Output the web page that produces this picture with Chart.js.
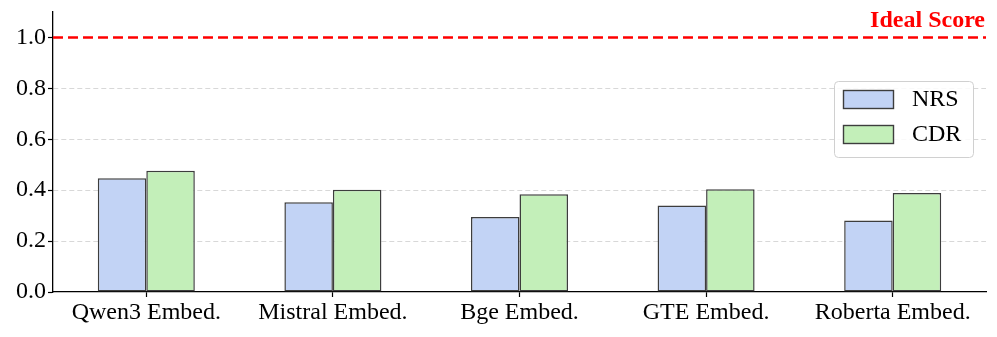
<!DOCTYPE html>
<html>
<head>
    <title>Embedding Scores</title>
    <script src="https://cdn.jsdelivr.net/npm/chart.js"></script>
    <style>
        body {
            margin: 0;
            background: #fff;
        }
    </style>
</head>
<body>
    <canvas id="chart" width="997" height="337"></canvas>
    <script>
        var models = ['Qwen3 Embed.', 'Mistral Embed.', 'Bge Embed.', 'GTE Embed.', 'Roberta Embed.'];
        var nrsScores = [0.447, 0.353, 0.295, 0.340, 0.281];
        var cdrScores = [0.476, 0.402, 0.384, 0.404, 0.389];
        var idealScore = 1.0;
        var yTicks = [0, 0.2, 0.4, 0.6, 0.8, 1.0];

        var serif = '"Liberation Serif", "Times New Roman", serif';
        Chart.defaults.font.family = serif;
        Chart.defaults.color = '#000';

        // red dashed ideal line + label, and the boxed legend
        var extras = {
            id: 'extras',
            afterDatasetsDraw: function(chart) {
                var ctx = chart.ctx, area = chart.chartArea;
                var y = chart.scales.y.getPixelForValue(idealScore);
                ctx.save();
                ctx.strokeStyle = '#ff0000';
                ctx.lineWidth = 2.6;
                ctx.setLineDash([10, 5]);
                ctx.beginPath();
                ctx.moveTo(area.left, y);
                ctx.lineTo(area.right, y);
                ctx.stroke();
                ctx.setLineDash([]);
                ctx.fillStyle = '#ff0000';
                ctx.font = 'bold 24px ' + serif;
                ctx.textAlign = 'right';
                ctx.textBaseline = 'alphabetic';
                ctx.fillText('Ideal Score', area.right - 1, y - 10);
                ctx.restore();
            },
            afterDraw: function(chart) {
                var ctx = chart.ctx;
                var x = 834, y = 81, w = 139, h = 76, r = 4;
                ctx.save();
                ctx.fillStyle = 'rgba(255,255,255,0.85)';
                ctx.strokeStyle = '#d0d0d0';
                ctx.lineWidth = 1;
                ctx.beginPath();
                ctx.roundRect(x + 0.5, y + 0.5, w, h, r);
                ctx.fill();
                ctx.stroke();
                ctx.font = '24px ' + serif;
                ctx.textBaseline = 'middle';
                ctx.textAlign = 'left';
                chart.data.datasets.forEach(function(ds, i) {
                    var sy = 90 + i * 35;
                    ctx.fillStyle = ds.backgroundColor;
                    ctx.fillRect(843, sy, 50, 18);
                    ctx.strokeStyle = ds.borderColor;
                    ctx.lineWidth = 1.4;
                    ctx.strokeRect(843.5, sy + 0.5, 50, 18);
                    ctx.fillStyle = '#000';
                    ctx.fillText(ds.label, 912, sy + 10);
                });
                ctx.restore();
            }
        };

        var ctx = document.getElementById('chart').getContext('2d');
        var chart = new Chart(ctx, {
            type: 'bar',
            data: {
                labels: models,
                datasets: [{
                    label: 'NRS',
                    data: nrsScores,
                    backgroundColor: '#c2d3f5',
                    borderColor: '#3d3d3d',
                    borderWidth: 1.5,
                    borderSkipped: false
                }, {
                    label: 'CDR',
                    data: cdrScores,
                    backgroundColor: '#c3efb9',
                    borderColor: '#3d3d3d',
                    borderWidth: 1.5,
                    borderSkipped: false
                }]
            },
            options: {
                responsive: false,
                animation: false,
                layout: { padding: { top: 12, right: 11, left: 0, bottom: 0 } },
                datasets: { bar: { categoryPercentage: 0.52, barPercentage: 1.0 } },
                plugins: {
                    legend: { display: false },
                    tooltip: { enabled: false }
                },
                scales: {
                    x: {
                        grid: {
                            offset: false,
                            drawOnChartArea: false,
                            tickLength: 5,
                            tickColor: '#000',
                            tickWidth: 1.2
                        },
                        border: { color: '#000', width: 1.3 },
                        ticks: { font: { size: 24 }, padding: 1, maxRotation: 0 },
                        afterFit: function(s) {
                            s.height = 45;
                            s.paddingLeft = 0; s.paddingRight = 0;
                        }
                    },
                    y: {
                        min: 0,
                        max: 1.1,
                        grid: {
                            color: function(c) {
                                var v = c.tick ? c.tick.value : 0;
                                return (v === 0 || v >= idealScore) ? 'rgba(0,0,0,0)' : '#d8d8d8';
                            },
                            lineWidth: 1,
                            tickLength: 5,
                            tickColor: '#000',
                            tickWidth: 1.2,
                            tickBorderDash: []
                        },
                        border: { color: '#000', width: 1.3, dash: [5, 3] },
                        ticks: {
                            font: { size: 24 },
                            padding: 2,
                            includeBounds: false,
                            callback: function(v) { return v.toFixed(1); }
                        },
                        afterBuildTicks: function(s) {
                            s.ticks = yTicks.map(function(v) { return { value: v }; });
                        },
                        afterFit: function(s) {
                            s.width = 53;
                            s.paddingTop = 0; s.paddingBottom = 0;
                        }
                    }
                }
            },
            plugins: [extras]
        });
    </script>
</body>
</html>
